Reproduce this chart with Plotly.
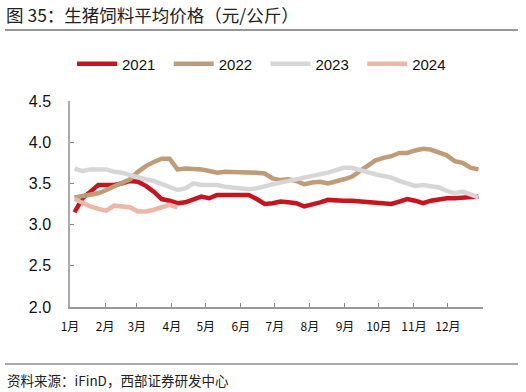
import plotly.graph_objects as go
import pandas as pd

# ---- data (weekly) ----
months = ["1月", "2月", "3月", "4月", "5月", "6月", "7月", "8月", "9月", "10月", "11月", "12月"]
series_names = ["2021", "2022", "2023", "2024"]
colors = ["#C8141E", "#BF9B76", "#D6D6D6", "#EDB7A8"]

v2021 = [3.15, 3.32, 3.40, 3.48, 3.48, 3.48, 3.50, 3.53, 3.52, 3.47, 3.40, 3.31, 3.29,
         3.26, 3.27, 3.30, 3.34, 3.32, 3.36, 3.36, 3.36, 3.36, 3.36, 3.31, 3.25, 3.26,
         3.28, 3.27, 3.26, 3.22, 3.24, 3.27, 3.30, 3.29, 3.29, 3.29, 3.28, 3.28, 3.27,
         3.26, 3.25, 3.28, 3.31, 3.29, 3.26, 3.29, 3.31, 3.32, 3.32, 3.33, 3.33, 3.34]
v2022 = [3.33, 3.35, 3.36, 3.38, 3.42, 3.46, 3.50, 3.55, 3.64, 3.71, 3.76, 3.80, 3.80,
         3.67, 3.68, 3.68, 3.67, 3.65, 3.63, 3.64, 3.64, 3.64, 3.64, 3.63, 3.62, 3.56,
         3.54, 3.55, 3.53, 3.49, 3.51, 3.52, 3.50, 3.52, 3.55, 3.58, 3.65, 3.72, 3.78,
         3.81, 3.83, 3.87, 3.87, 3.90, 3.92, 3.91, 3.87, 3.84, 3.77, 3.75, 3.69, 3.67]
v2023 = [3.68, 3.65, 3.67, 3.67, 3.67, 3.64, 3.63, 3.60, 3.57, 3.55, 3.53, 3.49, 3.46,
         3.42, 3.44, 3.50, 3.48, 3.48, 3.48, 3.46, 3.45, 3.44, 3.43, 3.44, 3.47, 3.49,
         3.51, 3.53, 3.54, 3.56, 3.58, 3.61, 3.63, 3.66, 3.69, 3.69, 3.66, 3.63, 3.61,
         3.59, 3.57, 3.53, 3.50, 3.47, 3.48, 3.47, 3.45, 3.41, 3.38, 3.40, 3.36, 3.33]
v2024 = [3.31, 3.26, 3.22, 3.19, 3.17, 3.23, 3.22, 3.21, 3.16, 3.16, 3.18, 3.21, 3.24, 3.21]
values = [v2021, v2022, v2023, v2024]

y_ticks = [2.0, 2.5, 3.0, 3.5, 4.0, 4.5]

# common-year weekly dates (month-day position on the axis)
def week_dates(n):
    return pd.date_range("2021-01-05", periods=n, freq="7D")

month_starts = list(pd.date_range("2021-01-01", periods=13, freq="MS"))

fig = go.Figure()
for name, col, vals in zip(series_names, colors, values):
    fig.add_trace(go.Scatter(
        x=week_dates(len(vals)), y=vals, name=name + "\u00a0\u00a0", mode="lines",
        line=dict(color=col, width=4.5, shape="linear"),
    ))

font_cjk = "Noto Sans CJK SC"
font_lat = "Liberation Sans, Arial"

fig.update_layout(
    width=526, height=392,
    margin=dict(l=70, r=43, t=101, b=85),
    paper_bgcolor="white", plot_bgcolor="white",
    font=dict(family=font_lat, color="#111"),
    showlegend=True,
    legend=dict(orientation="h", x=(72-70)/413, xanchor="left", y=(307-64)/206, yanchor="middle",
                font=dict(size=15, family=font_lat, color="#111"),
                itemwidth=40, tracegroupgap=0, traceorder="normal"),
    xaxis=dict(
        range=["2021-01-01", "2022-01-01"],
        tickmode="array", tickvals=month_starts, ticktext=months + [""],
        ticks="inside", ticklen=4, tickcolor="#888",
        showline=True, linecolor="#999", linewidth=1.5,
        showgrid=False, zeroline=False,
        tickfont=dict(size=12, family=font_cjk, color="#111"),
        ticklabelstandoff=8,
    ),
    yaxis=dict(
        range=[2.0, 4.5], tickmode="array", tickvals=y_ticks,
        ticktext=[f"{t:.1f}" for t in y_ticks],
        ticks="inside", ticklen=4, tickcolor="#888",
        showline=True, linecolor="#aaa", linewidth=1.5,
        showgrid=False, zeroline=False,
        tickfont=dict(size=16, family=font_lat, color="#111"),
        ticklabelstandoff=14,
    ),
)

# title, rules and source text
fig.add_annotation(text="图 35：生猪饲料平均价格（元/公斤）", xref="paper", yref="paper",
                   x=-66/413, y=(307-14)/206, xanchor="left", yanchor="middle",
                   showarrow=False, font=dict(size=17.5, family=font_cjk, color="#222"))
fig.add_shape(type="line", xref="paper", yref="paper",
              x0=-65/413, x1=448/413, y0=(307-30)/206, y1=(307-30)/206,
              line=dict(color="#333", width=1.2))
fig.add_shape(type="line", xref="paper", yref="paper",
              x0=-65/413, x1=448/413, y0=(307-364)/206, y1=(307-364)/206,
              line=dict(color="#555", width=1.2))
fig.add_annotation(text="资料来源：iFinD，西部证券研发中心", xref="paper", yref="paper",
                   x=-65/413, y=(307-380)/206, xanchor="left", yanchor="middle",
                   showarrow=False, font=dict(size=13.5, family=font_cjk, color="#222"))

fig.write_html("out.html", config={"displayModeBar": False},
               post_script="document.body.style.margin='0';")
